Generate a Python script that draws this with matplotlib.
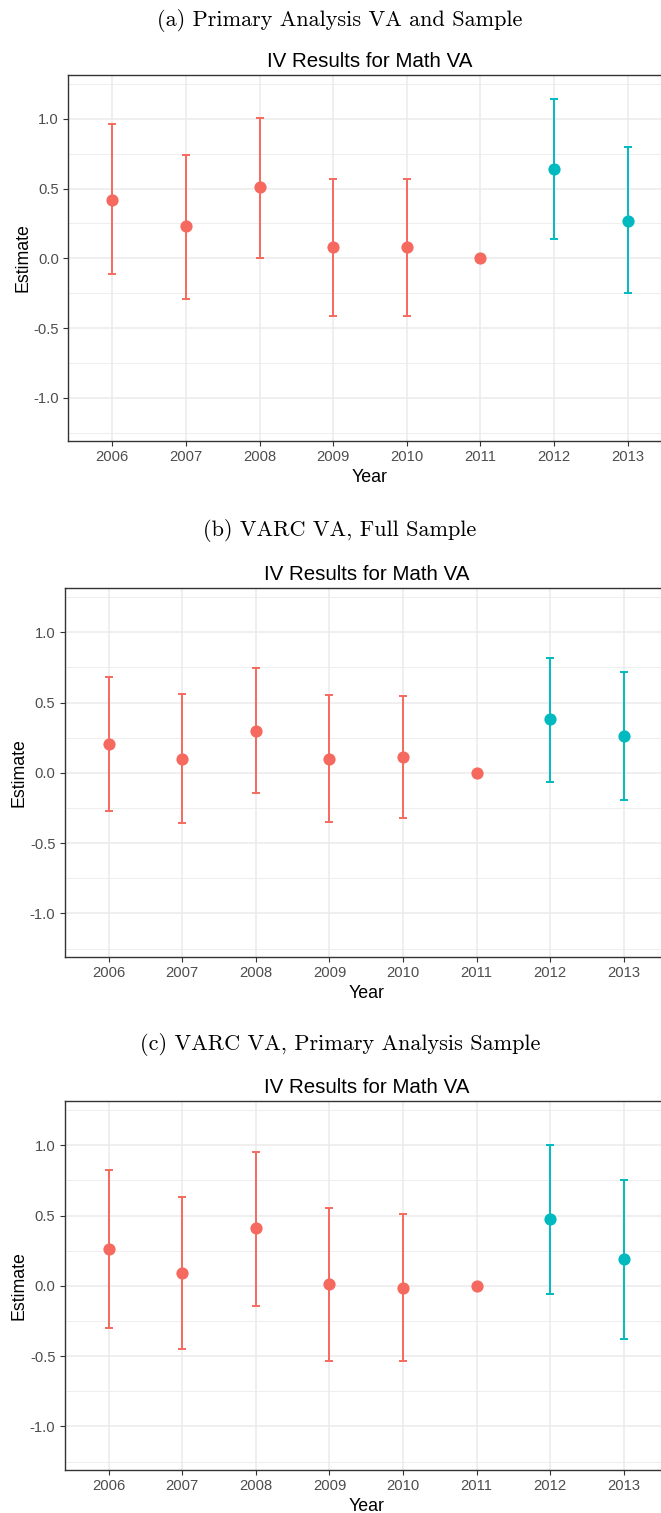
import numpy as np
import matplotlib
matplotlib.use('Agg')
import matplotlib.pyplot as plt

years = [2006, 2007, 2008, 2009, 2010, 2011, 2012, 2013]
post = [False, False, False, False, False, False, True, True]

captions = ['(a) Primary Analysis VA and Sample',
            '(b) VARC VA, Full Sample',
            '(c) VARC VA, Primary Analysis Sample']

# estimate, lower, upper (2011 is the reference year: no interval)
est_a = [0.42, 0.23, 0.51, 0.08, 0.08, 0.0, 0.64, 0.27]
lo_a = [-0.11, -0.29, 0.00, -0.41, -0.41, 0.0, 0.14, -0.25]
hi_a = [0.96, 0.74, 1.01, 0.57, 0.57, 0.0, 1.14, 0.80]

est_b = [0.205, 0.10, 0.30, 0.10, 0.115, 0.0, 0.38, 0.26]
lo_b = [-0.27, -0.36, -0.14, -0.35, -0.32, 0.0, -0.065, -0.195]
hi_b = [0.68, 0.56, 0.745, 0.555, 0.55, 0.0, 0.815, 0.715]

est_c = [0.265, 0.09, 0.41, 0.01, -0.015, 0.0, 0.475, 0.19]
lo_c = [-0.30, -0.45, -0.14, -0.535, -0.535, 0.0, -0.055, -0.38]
hi_c = [0.825, 0.63, 0.955, 0.555, 0.51, 0.0, 1.005, 0.755]

panels = [(est_a, lo_a, hi_a), (est_b, lo_b, hi_b), (est_c, lo_c, hi_c)]

RED = '#F6695F'
TEAL = '#00BAC0'

W, H = 661, 1513
fig = plt.figure(figsize=(W / 100, H / 100), dpi=100)
fig.patch.set_facecolor('white')

# axes boxes in pixels: left, right, top, bottom
boxes = [(68, 672, 75, 441), (64.5, 668, 588, 957), (64.5, 668, 1101, 1470)]
caption_y = [20, 530, 1044]

sans = ['Liberation Sans', 'DejaVu Sans']

for i, (est, lo, hi) in enumerate(panels):
    l, r, t, b = boxes[i]
    ax = fig.add_axes([l / W, 1 - b / H, (r - l) / W, (b - t) / H])
    ax.set_xlim(2005.4, 2013.6)
    ax.set_ylim(-1.31, 1.315)
    ax.set_xticks(years)
    ax.set_xticklabels([str(y) for y in years])
    ax.set_yticks([-1.0, -0.5, 0.0, 0.5, 1.0])
    ax.set_yticklabels(['-1.0', '-0.5', '0.0', '0.5', '1.0'])
    ax.set_yticks([-1.25, -0.75, -0.25, 0.25, 0.75, 1.25], minor=True)
    ax.grid(True, which='major', color='#EBEBEB', linewidth=1.1)
    ax.grid(True, which='minor', axis='y', color='#EBEBEB', linewidth=0.6)
    ax.tick_params(axis='y', which='minor', length=0)
    ax.tick_params(which='major', length=3.5, width=0.8, color='#333333',
                   labelcolor='#4D4D4D', labelsize=10.6, pad=3)
    for lab in ax.get_xticklabels() + ax.get_yticklabels():
        lab.set_family(sans)
    for s in ax.spines.values():
        s.set_color('#333333')
        s.set_linewidth(1.0)
    ax.set_axisbelow(True)

    for j, y in enumerate(years):
        c = TEAL if post[j] else RED
        if hi[j] != lo[j]:
            ax.errorbar(y, est[j], yerr=[[est[j] - lo[j]], [hi[j] - est[j]]],
                        fmt='none', ecolor=c, elinewidth=1.4, capsize=3,
                        capthick=1.4, zorder=2)
        ax.plot(y, est[j], 'o', color=c, markersize=8.8, zorder=3,
                markeredgewidth=0)

    ax.set_xlabel('Year', family=sans, fontsize=12.8, labelpad=3.5)
    ax.set_ylabel('Estimate', family=sans, fontsize=12.8, labelpad=1.5)
    ax.set_title('IV Results for Math VA', family=sans, fontsize=14.8, pad=6)

    fig.text(340 / W, 1 - caption_y[i] / H, captions[i], family='cmr10',
             fontsize=16, ha='center', va='center')

fig.savefig('out.png', dpi=100, facecolor='white')
